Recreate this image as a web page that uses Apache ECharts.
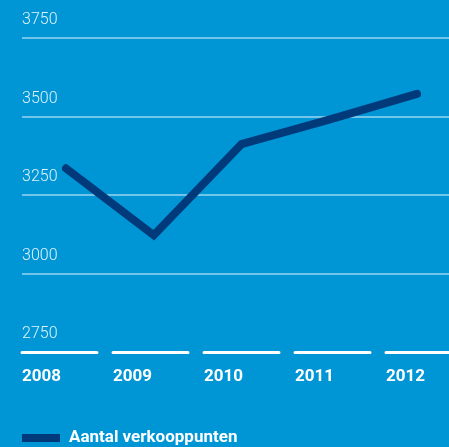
<!DOCTYPE html>
<html>
<head>
<meta charset="utf-8">
<script src="https://cdn.jsdelivr.net/npm/echarts@6/dist/echarts.min.js"></script>
<style>
  html, body { margin: 0; padding: 0; background: #0096d6; }
  #chart { width: 449px; height: 447px; }
</style>
</head>
<body>
<div id="chart"></div>
<script>
// chart data
var years = ['2008', '2009', '2010', '2011', '2012'];
var verkooppunten = [3335, 3122, 3412, 3490, 3572];
var seriesName = 'Aantal verkooppunten';
var yMin = 2750, yMax = 3750, yStep = 250;

var chart = echarts.init(document.getElementById('chart'));

var option = {
    backgroundColor: '#0096d6',
    animation: false,
    grid: [
        // gridlines + y labels
        { left: 22, right: 0, top: 38, bottom: 95, outerBoundsMode: 'none' },
        // the line itself
        { left: 66, right: 32, top: 38, bottom: 95, outerBoundsMode: 'none' },
        // segmented x axis with year labels (runs past the right edge)
        { left: 22, right: -28, top: 38, bottom: 95, outerBoundsMode: 'none' }
    ],
    legend: {
        data: [seriesName],
        left: 22,
        top: 429,
        padding: 0,
        icon: 'rect',
        itemWidth: 38,
        itemHeight: 8,
        itemGap: 9,
        textStyle: {
            color: '#ffffff',
            fontFamily: 'Roboto',
            fontWeight: 'bold',
            fontSize: 17,
            lineHeight: 18,
            padding: [0, 0, 0, 4]
        }
    },
    xAxis: [
        {
            gridIndex: 0, type: 'value', min: 0, max: 1, show: false
        },
        {
            gridIndex: 1, type: 'category', data: years, boundaryGap: false, show: false
        },
        {
            gridIndex: 2,
            type: 'value',
            min: 0,
            max: years.length,
            interval: 1,
            axisLine: {
                show: true,
                lineStyle: { color: '#ffffff', width: 3, type: [75, 16] }
            },
            axisTick: { show: false },
            splitLine: { show: false },
            axisLabel: {
                color: '#ffffff',
                fontFamily: 'Roboto',
                fontWeight: 'bold',
                fontSize: 17,
                align: 'left',
                margin: 16,
                showMaxLabel: false,
                formatter: function (v) { return years[v] || ''; }
            }
        }
    ],
    yAxis: [
        {
            gridIndex: 0,
            type: 'value',
            min: yMin,
            max: yMax,
            interval: yStep,
            axisLine: { show: false },
            axisTick: { show: false },
            splitLine: {
                show: true,
                showMinLine: false,
                lineStyle: { color: 'rgba(255,255,255,0.6)', width: 1.5 }
            },
            axisLabel: {
                inside: true,
                margin: 0,
                color: 'rgba(255,255,255,0.88)',
                fontFamily: 'Roboto',
                fontWeight: 300,
                fontSize: 16,
                verticalAlign: 'bottom',
                padding: [0, 0, 10, 0],
                formatter: function (v) { return String(v); }
            }
        },
        {
            gridIndex: 1, type: 'value', min: yMin, max: yMax, show: false
        },
        {
            gridIndex: 2, type: 'value', min: yMin, max: yMax, show: false
        }
    ],
    series: [
        {
            name: seriesName,
            type: 'line',
            xAxisIndex: 1,
            yAxisIndex: 1,
            data: verkooppunten,
            symbol: 'none',
            itemStyle: { color: '#003a7a' },
            lineStyle: { color: '#003a7a', width: 8, cap: 'round', join: 'miter' }
        }
    ]
};

chart.setOption(option);
</script>
</body>
</html>
